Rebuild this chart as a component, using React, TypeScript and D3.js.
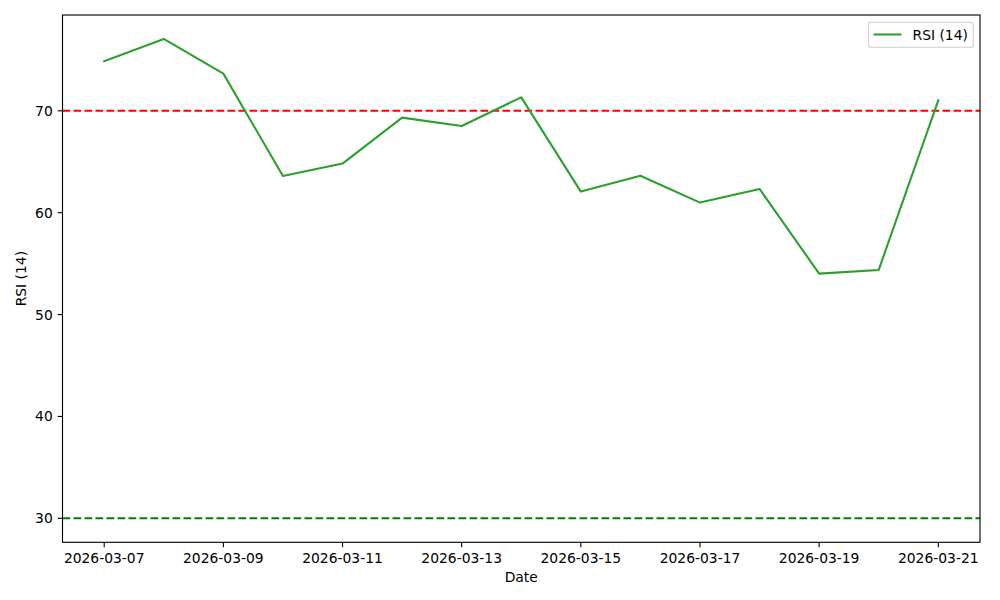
import React from "react";
import * as d3 from "d3";

const dateLabels = [
  "2026-03-07", "2026-03-08", "2026-03-09", "2026-03-10", "2026-03-11",
  "2026-03-12", "2026-03-13", "2026-03-14", "2026-03-15", "2026-03-16",
  "2026-03-17", "2026-03-18", "2026-03-19", "2026-03-20", "2026-03-21",
];
const rsiValues = [
  74.86, 77.05, 73.65, 63.6, 64.82, 69.33, 68.51, 71.32, 62.07, 63.62,
  60.99, 62.33, 54.02, 54.38, 71.03,
];
const yTicks = [30, 40, 50, 60, 70];
const overbought = 70;
const oversold = 30;
const seriesName = "RSI (14)";

const W = 1000;
const H = 600;
const M = { left: 62.5, right: 980, top: 15, bottom: 542.3 };
const FONT = "DejaVu Sans, sans-serif";
const FS = 13.89;

export default function App() {
  const parse = d3.utcParse("%Y-%m-%d");
  const fmt = d3.utcFormat("%Y-%m-%d");
  const dates = dateLabels.map((d) => parse(d) as Date);
  const day = 86400000;
  const span = (+dates[dates.length - 1] - +dates[0]) * 0.05;
  const x = d3
    .scaleUtc()
    .domain([new Date(+dates[0] - span), new Date(+dates[dates.length - 1] + span)])
    .range([M.left, M.right]);
  const allY = [...rsiValues, overbought, oversold];
  const yMin = d3.min(allY)!;
  const yMax = d3.max(allY)!;
  const pad = (yMax - yMin) * 0.05;
  const y = d3.scaleLinear().domain([yMin - pad, yMax + pad]).range([M.bottom, M.top]);
  const xTicks = dates.filter((_, i) => i % 2 === 0);
  const line = d3
    .line<number>()
    .x((_, i) => x(dates[i]))
    .y((v) => y(v));
  const tickLen = 4.86;
  const dash = "7.7 3.3";
  void day;

  return (
    <svg width={W} height={H} style={{ position: "absolute", left: 0, top: 0, background: "#fff" }} fontFamily={FONT}>
      <rect x={0} y={0} width={W} height={H} fill="#fff" />
      <defs>
        <clipPath id="plotclip">
          <rect x={M.left} y={M.top} width={M.right - M.left} height={M.bottom - M.top} />
        </clipPath>
      </defs>
      <g clipPath="url(#plotclip)">
        <line x1={M.left} x2={M.right} y1={y(overbought)} y2={y(overbought)} stroke="#ff0000" strokeWidth={2.08} strokeDasharray={dash} />
        <line x1={M.left} x2={M.right} y1={y(oversold)} y2={y(oversold)} stroke="#008000" strokeWidth={2.08} strokeDasharray={dash} />
        <path d={line(rsiValues) || ""} fill="none" stroke="#2ca02c" strokeWidth={2.08} strokeLinejoin="round" strokeLinecap="square" />
      </g>
      <rect x={M.left} y={M.top} width={M.right - M.left} height={M.bottom - M.top} fill="none" stroke="#000" strokeWidth={1.11} />
      {xTicks.map((d, i) => (
        <g key={i}>
          <line x1={x(d)} x2={x(d)} y1={M.bottom} y2={M.bottom + tickLen} stroke="#000" strokeWidth={1.11} />
          <text x={x(d)} y={M.bottom + tickLen + 4.86 + 11} textAnchor="middle" fontSize={FS} fill="#000">
            {fmt(d)}
          </text>
        </g>
      ))}
      {yTicks.map((v, i) => (
        <g key={i}>
          <line x1={M.left - tickLen} x2={M.left} y1={y(v)} y2={y(v)} stroke="#000" strokeWidth={1.11} />
          <text x={M.left - tickLen - 4.86} y={y(v)} dy="0.36em" textAnchor="end" fontSize={FS} fill="#000">
            {v}
          </text>
        </g>
      ))}
      <text x={(M.left + M.right) / 2} y={582} textAnchor="middle" fontSize={FS} fill="#000">
        Date
      </text>
      <text transform={`translate(26, ${(M.top + M.bottom) / 2}) rotate(-90)`} textAnchor="middle" fontSize={FS} fill="#000">
        {seriesName}
      </text>
      <g>
        <rect x={868.5} y={22.3} width={104.8} height={25} rx={2.8} fill="#fff" fillOpacity={0.8} stroke="#d0d0d0" strokeWidth={1.11} />
        <line x1={873.5} x2={901.5} y1={34.5} y2={34.5} stroke="#2ca02c" strokeWidth={2.08} />
        <text x={912.5} y={34.5} dy="0.36em" fontSize={FS} fill="#000">
          {seriesName}
        </text>
      </g>
    </svg>
  );
}
